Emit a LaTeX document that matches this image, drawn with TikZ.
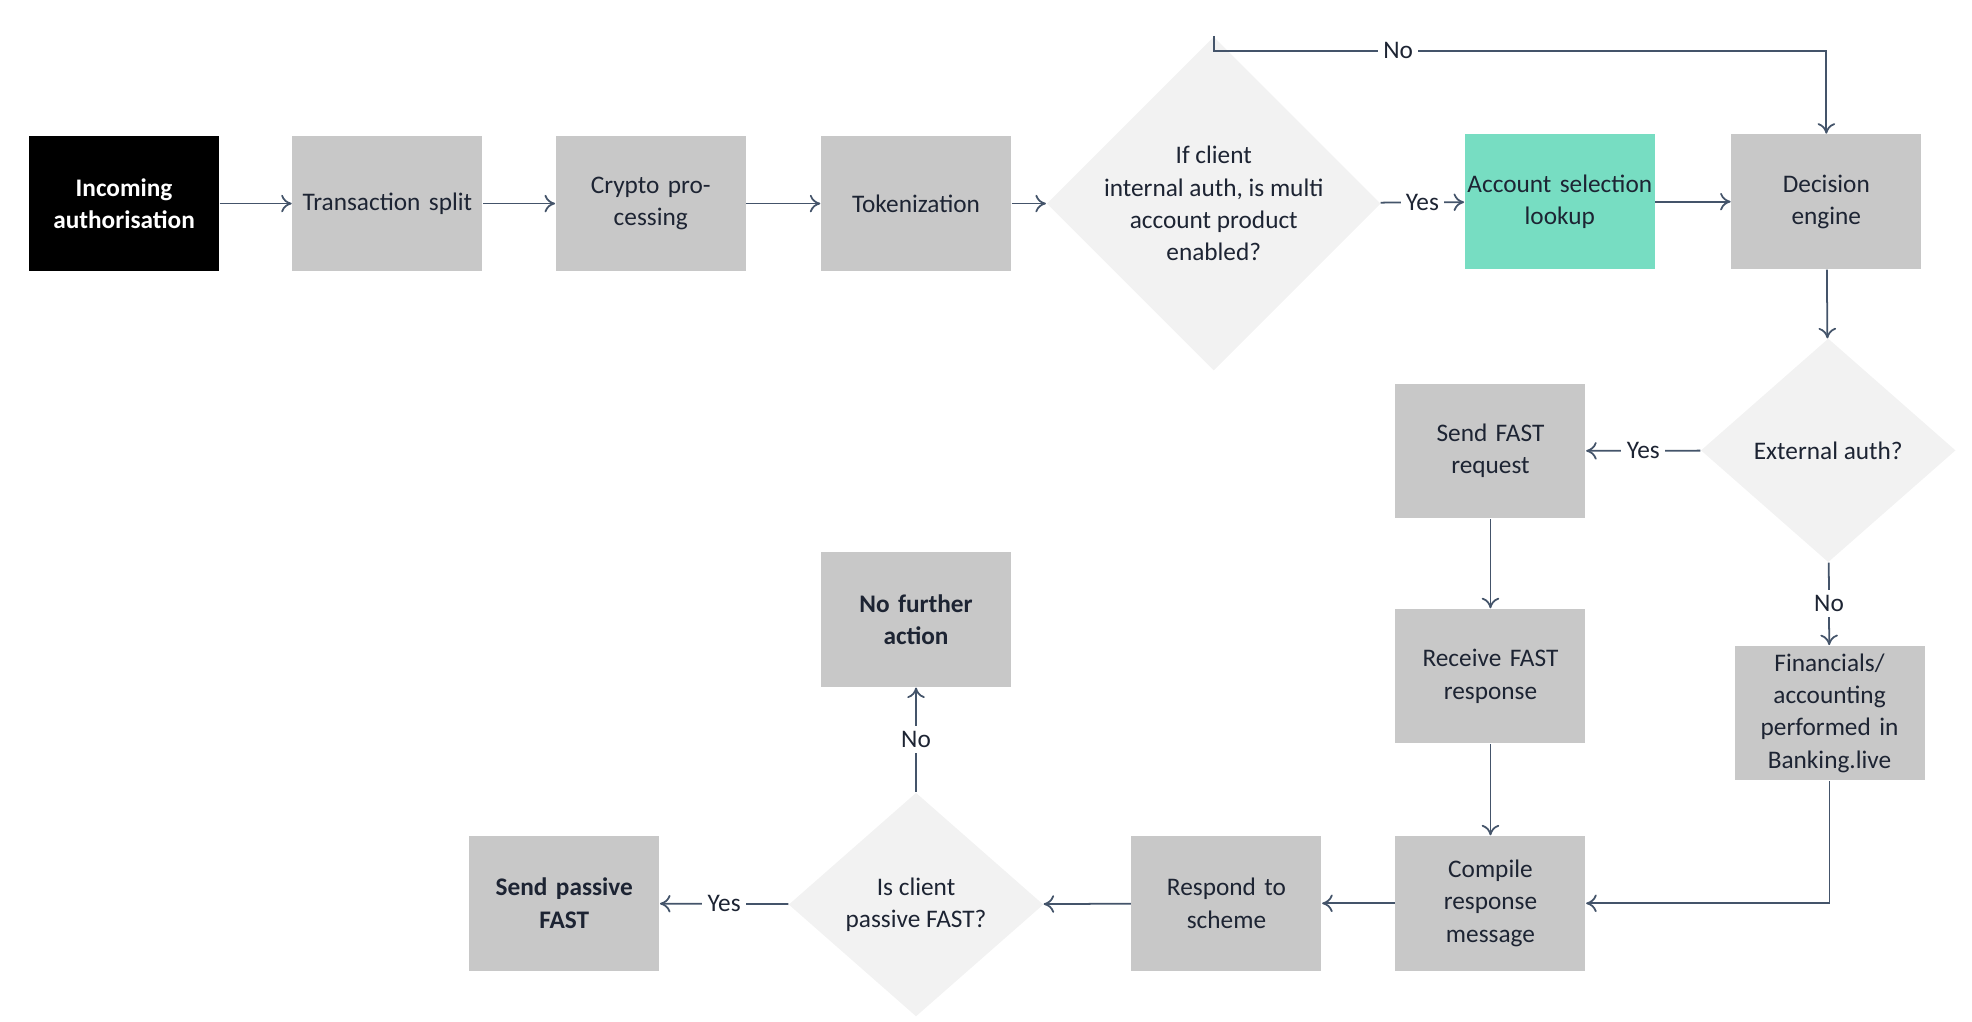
\documentclass[tikz,border=0pt]{standalone}
\usepackage{fontspec}
\setmainfont{Carlito}
\usetikzlibrary{arrows.meta, shapes.geometric, positioning}
\definecolor{BoxGrey}{HTML}{C8C8C8}
\definecolor{DiaGrey}{HTML}{F2F2F2}
\definecolor{Teal}{HTML}{77DDC2}
\definecolor{Line}{HTML}{44546A}
\definecolor{Ink}{HTML}{1D2433}
\tikzset{
  box/.style={fill=BoxGrey, minimum width=1.9cm, minimum height=1.345cm, text width=1.85cm, align=center, inner sep=0pt, font=\fontsize{7.2}{9.2}\selectfont, text=Ink},
  start/.style={box, fill=black, text=white, font=\fontsize{7.2}{9.2}\selectfont\bfseries},
  lookup/.style={box, fill=Teal},
  decide/.style={diamond, fill=DiaGrey, minimum width=2.55cm, minimum height=2.24cm, inner sep=0pt, align=center, font=\fontsize{7.2}{9.2}\selectfont, text=Ink},
  flow/.style={-{To[length=3pt,width=5pt]}, draw=Line, line width=0.5pt},
  tag/.style={fill=white, inner sep=1.5pt, font=\fontsize{7.2}{9.2}\selectfont, text=Ink},
}
\begin{document}
\begin{tikzpicture}[x=0.01272cm, y=-0.01272cm]
  \useasboundingbox (0,0) rectangle (1550,803);
  % top row
  \node[start] (inc) at (97.5,160) {Incoming\\authorisation};
  \node[box] (split) at (304.5,160) {Transaction split};
  \node[box] (crypto) at (511.5,160) {Crypto processing};
  \node[box] (token) at (720,160) {Tokenization};
  \node[decide] (multi) at (954,160) {If client\\internal auth, is multi\\account product\\enabled?};
  \node[lookup] (acct) at (1226,158.5) {Account selection\\lookup};
  \node[box] (engine) at (1435.5,158.5) {Decision\\engine};
  % right column
  \node[decide] (ext) at (1437,354) {External auth?};
  \node[box] (sendf) at (1171.5,354.5) {Send FAST\\request};
  \node[box] (recvf) at (1171.5,531.5) {Receive FAST\\response};
  \node[box] (fin) at (1438,560.5) {Financials/\\accounting\\performed in\\Banking.live};
  % bottom row
  \node[box] (comp) at (1171.5,710) {Compile response\\message};
  \node[box] (resp) at (964,710) {Respond to\\scheme};
  \node[decide] (passive) at (720,711) {Is client\\passive FAST?};
  \node[box, font=\fontsize{7.2}{9.2}\selectfont\bfseries] (sendp) at (443.5,710) {Send passive\\FAST};
  \node[box, font=\fontsize{7.2}{9.2}\selectfont\bfseries] (none) at (720,487) {No further\\action};

  \draw[flow] (inc) -- (split);
  \draw[flow] (split) -- (crypto);
  \draw[flow] (crypto) -- (token);
  \draw[flow] (token) -- (multi);
  \draw[flow] (multi) -- node[tag] {Yes} (acct);
  \draw[flow] (multi.north) |- (1099,40) node[tag] {No} -| (engine.north);
  \draw[flow] (acct) -- (engine);
  \draw[flow] (engine) -- (ext);
  \draw[flow] (ext) -- node[tag] {Yes} (sendf);
  \draw[flow] (ext) -- node[tag] {No} (fin);
  \draw[flow] (sendf) -- (recvf);
  \draw[flow] (recvf) -- (comp);
  \draw[flow] (fin.south) |- (comp.east);
  \draw[flow] (comp) -- (resp);
  \draw[flow] (resp) -- (passive);
  \draw[flow] (passive) -- node[tag] {Yes} (sendp);
  \draw[flow] (passive) -- node[tag] {No} (none);
\end{tikzpicture}
\end{document}
